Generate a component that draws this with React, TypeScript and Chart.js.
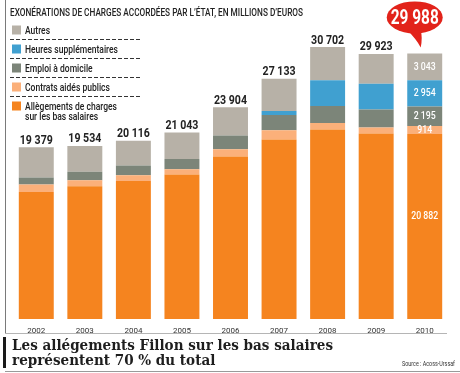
import React, { useEffect, useRef } from "react";
import { Chart, registerables } from "chart.js";

Chart.register(...registerables);

// ---- Data (millions d'euros) ----
const years = ["2002", "2003", "2004", "2005", "2006", "2007", "2008", "2009", "2010"];
const allegements = [14350, 14995, 15592, 16310, 18340, 20260, 21385, 20935, 20882];
const contrats = [834, 676, 640, 600, 825, 1050, 750, 676, 914];
const emploi = [790, 940, 1090, 1160, 1545, 1725, 1915, 2030, 2195];
const heures = [0, 0, 0, 0, 0, 450, 2895, 2930, 2954];
const autres = [3405, 2923, 2794, 2973, 3194, 3648, 3757, 3352, 3043];
const totals = [19379, 19534, 20116, 21043, 23904, 27133, 30702, 29923, 29988];

const seriesLabels = [
  "Allègements de charges\nsur les bas salaires",
  "Contrats aidés publics",
  "Emploi à domicile",
  "Heures supplémentaires",
  "Autres",
];
const seriesColors = ["#F5841F", "#FBB07A", "#7C8579", "#40A0D0", "#B7B1A7"];

const titleText = "EXONÉRATIONS DE CHARGES ACCORDÉES PAR L’ÉTAT, EN MILLIONS D’EUROS";
const footerLines = ["Les allégements Fillon sur les bas salaires", "représentent 70 % du total"];
const sourceText = "Source : Acoss-Urssaf";

const COND = "Roboto, 'DejaVu Sans', sans-serif";

function fmt(n: number): string {
  return String(n).replace(/\B(?=(\d{3})+(?!\d))/g, " ");
}

function fitScale(ctx: CanvasRenderingContext2D, font: string, s: string, target: number) {
  ctx.save();
  ctx.font = font;
  const w = ctx.measureText(s).width;
  ctx.restore();
  return w > 0 ? target / w : 1;
}

function drawText(
  ctx: CanvasRenderingContext2D,
  s: string,
  x: number,
  y: number,
  font: string,
  color: string,
  sx: number,
  align: CanvasTextAlign = "left",
  baseline: CanvasTextBaseline = "alphabetic"
) {
  ctx.save();
  ctx.font = font;
  ctx.fillStyle = color;
  ctx.textAlign = align;
  ctx.textBaseline = baseline;
  ctx.translate(x, y);
  ctx.scale(sx, 1);
  ctx.fillText(s, 0, 0);
  ctx.restore();
}

const decorPlugin = {
  id: "decor",
  afterDraw(chart: any) {
    const ctx: CanvasRenderingContext2D = chart.ctx;
    const xs = chart.scales.x;
    const ys = chart.scales.y;

    // frame lines
    ctx.save();
    ctx.strokeStyle = "#7a7a7a";
    ctx.lineWidth = 1;
    ctx.beginPath();
    ctx.moveTo(5.5, 0);
    ctx.lineTo(5.5, 333);
    ctx.stroke();
    ctx.strokeStyle = "#b5b5b5";
    ctx.beginPath();
    ctx.moveTo(5, 333.5);
    ctx.lineTo(447, 333.5);
    ctx.stroke();
    ctx.strokeStyle = "#9a9a9a";
    ctx.beginPath();
    ctx.moveTo(5, 371.5);
    ctx.lineTo(460, 371.5);
    ctx.stroke();
    ctx.fillStyle = "#1a1a1a";
    ctx.fillRect(3, 337, 3, 31);
    ctx.restore();

    // title
    const tFont = `500 10px ${COND}`;
    drawText(ctx, titleText, 10, 15.5, tFont, "#222", fitScale(ctx, tFont, titleText, 293));

    // legend (top to bottom = reverse of stacking)
    const lFont = `500 11px ${COND}`;
    const lsx = fitScale(ctx, lFont, "Heures supplémentaires", 93);
    const rowY = [30, 49, 68, 87, 106];
    for (let r = 0; r < 5; r++) {
      const si = 4 - r;
      const cy = rowY[r];
      ctx.fillStyle = seriesColors[si];
      ctx.fillRect(12, cy - 4.5, 9, 9);
      const lines = seriesLabels[si].split("\n");
      lines.forEach((ln, k) => {
        drawText(ctx, ln, 25, cy + 4 + k * 10, lFont, "#222", lsx);
      });
      if (r < 4) {
        ctx.save();
        ctx.strokeStyle = "#333";
        ctx.lineWidth = 1;
        ctx.setLineDash([4, 2]);
        ctx.beginPath();
        ctx.moveTo(10, cy + 9.5);
        ctx.lineTo(140, cy + 9.5);
        ctx.stroke();
        ctx.restore();
      }
    }

    // totals above bars
    const totFont = `bold 13px ${COND}`;
    const totSx = fitScale(ctx, totFont, "19 379", 33);
    const n = years.length;
    for (let i = 0; i < n - 1; i++) {
      const x = xs.getPixelForValue(i);
      const y = ys.getPixelForValue(totals[i]);
      drawText(ctx, fmt(totals[i]), x, y - 3.5, totFont, "#222", totSx, "center");
    }

    // segment labels on last bar
    const last = n - 1;
    const segFont = `500 11px ${COND}`;
    const segSx = fitScale(ctx, segFont, "2 954", 22);
    const segVals = [allegements, contrats, emploi, heures, autres];
    for (let d = 0; d < 5; d++) {
      const el = chart.getDatasetMeta(d).data[last];
      const cy = (el.y + el.base) / 2 + (d === 0 ? -10 : 0);
      drawText(ctx, fmt(segVals[d][last]), el.x, cy, segFont, "#ffffff", segSx, "center", "middle");
    }

    // speech bubble with the last total
    const bx = xs.getPixelForValue(last) - 10;
    const topY = ys.getPixelForValue(totals[last]);
    const by = topY - 36;
    ctx.save();
    ctx.fillStyle = "#E2231A";
    ctx.beginPath();
    ctx.ellipse(bx, by, 28, 16, 0, 0, Math.PI * 2);
    ctx.fill();
    ctx.beginPath();
    ctx.moveTo(bx - 8, by + 12);
    ctx.quadraticCurveTo(bx + 2, by + 22, bx + 6, by + 30);
    ctx.quadraticCurveTo(bx + 8, by + 20, bx + 6, by + 13);
    ctx.closePath();
    ctx.fill();
    ctx.restore();
    const bFont = `bold 20px ${COND}`;
    drawText(ctx, fmt(totals[last]), bx, by + 7, bFont, "#ffffff", fitScale(ctx, bFont, "29 988", 48), "center");

    // footer
    const fFont = `bold 15px 'DejaVu Serif', 'Noto Serif', serif`;
    const fsx = fitScale(ctx, fFont, footerLines[0], 321);
    drawText(ctx, footerLines[0], 12, 350, fFont, "#1e1e1e", fsx);
    drawText(ctx, footerLines[1], 12, 365, fFont, "#1e1e1e", fsx);

    const sFont = `7px ${COND}`;
    drawText(ctx, sourceText, 455, 366, sFont, "#333", fitScale(ctx, sFont, sourceText, 53), "right");
  },
};

export default function App() {
  const ref = useRef<HTMLCanvasElement | null>(null);

  useEffect(() => {
    if (!ref.current) return;
    const stacks = [allegements, contrats, emploi, heures, autres];
    const chart = new Chart(ref.current, {
      type: "bar",
      data: {
        labels: years,
        datasets: stacks.map((arr, i) => ({
          label: seriesLabels[i].replace("\n", " "),
          data: arr,
          backgroundColor: seriesColors[i],
          borderWidth: 0,
          barPercentage: 0.72,
          categoryPercentage: 1,
        })),
      },
      options: {
        responsive: false,
        animation: false,
        devicePixelRatio: 1,
        layout: { padding: { top: 9, left: 12, right: 11, bottom: 33 } },
        plugins: { legend: { display: false }, tooltip: { enabled: false }, title: { display: false } },
        scales: {
          x: {
            stacked: true,
            grid: { display: false, drawTicks: false },
            border: { display: false },
            ticks: { font: { family: "Roboto", size: 8 }, color: "#333", padding: 7, maxRotation: 0 },
            afterFit: (s: any) => {
              s.height = 21;
            },
          },
          y: { stacked: true, display: false, min: 0, max: 35000 },
        },
      },
      plugins: [decorPlugin],
    });
    return () => chart.destroy();
  }, []);

  return (
    <div style={{ position: "absolute", left: 0, top: 0, width: 460, height: 373, background: "#fff" }}>
      <canvas ref={ref} width={460} height={373} style={{ display: "block" }} />
    </div>
  );
}
